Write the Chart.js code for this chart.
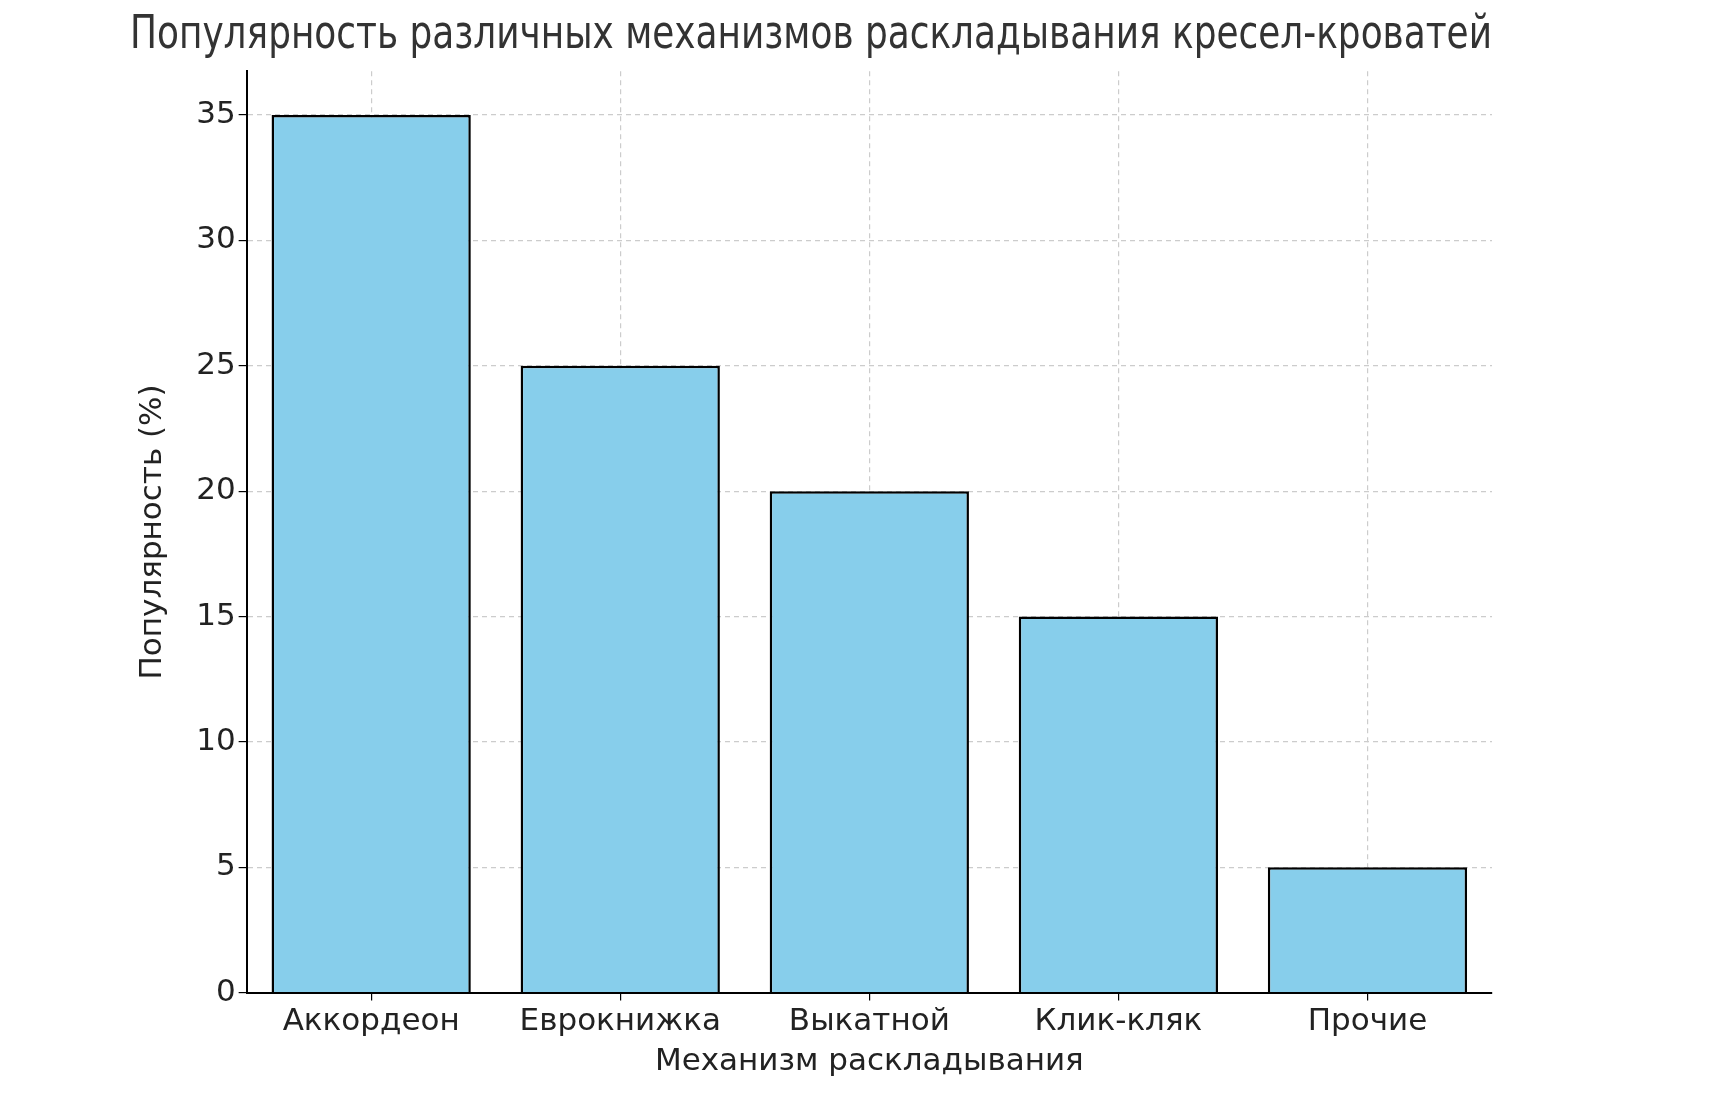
<!DOCTYPE html>
<html><head><meta charset="utf-8">
<script src="https://cdn.jsdelivr.net/npm/chart.js@4/dist/chart.umd.min.js"></script>
<style>html,body{margin:0;padding:0;background:#fff}</style>
</head><body>
<canvas id="c" width="1727" height="1101"></canvas>
<script>
const categories = ["Аккордеон","Еврокнижка","Выкатной","Клик-кляк","Прочие"];
const popularity = [35,25,20,15,5];
const yTicks = [0,5,10,15,20,25,30,35];

new Chart(document.getElementById('c'), {
  type: 'bar',
  data: { labels: categories, datasets: [{ data: popularity, backgroundColor: '#87ceeb', borderColor: '#000', borderWidth: 2.5, categoryPercentage: 0.8, barPercentage: 1 }] },
  options: {
    responsive: false, animation: false, devicePixelRatio: 1,
    layout: { padding: { left: 130, right: 235, top: 0, bottom: 16 } },
    plugins: { legend: { display: false }, tooltip: { enabled: false },
      title: { display: true, text: 'Популярность различных механизмов раскладывания кресел-кроватей', color: '#333', font: { family: 'DejaVu Sans', size: 46, weight: 'normal' }, padding: { top: 8, bottom: 8 } } },
    scales: {
      x: { grid: { offset: false, color: '#cccccc', lineWidth: 1.2, tickLength: 8, tickColor: '#000' }, border: { color: '#000', width: 2, dash: [5,4] },
        ticks: { color: '#222', font: { family: 'DejaVu Sans', size: 31 } },
        title: { display: true, text: 'Механизм раскладывания', color: '#222', font: { family: 'DejaVu Sans', size: 31 }, padding: { top: 0 } } },
      y: { min: 0, max: 36.75, afterBuildTicks: a => { a.ticks = yTicks.map(v => ({ value: v })); },
        grid: { color: '#cccccc', lineWidth: 1.2, tickLength: 8, tickColor: '#000' }, border: { color: '#000', width: 2, dash: [5,4] },
        ticks: { color: '#222', font: { family: 'DejaVu Sans', size: 31 } },
        title: { display: true, text: 'Популярность (%)', color: '#222', font: { family: 'DejaVu Sans', size: 31 }, padding: { bottom: 22 } } }
    }
  }
});
</script>
</body></html>
